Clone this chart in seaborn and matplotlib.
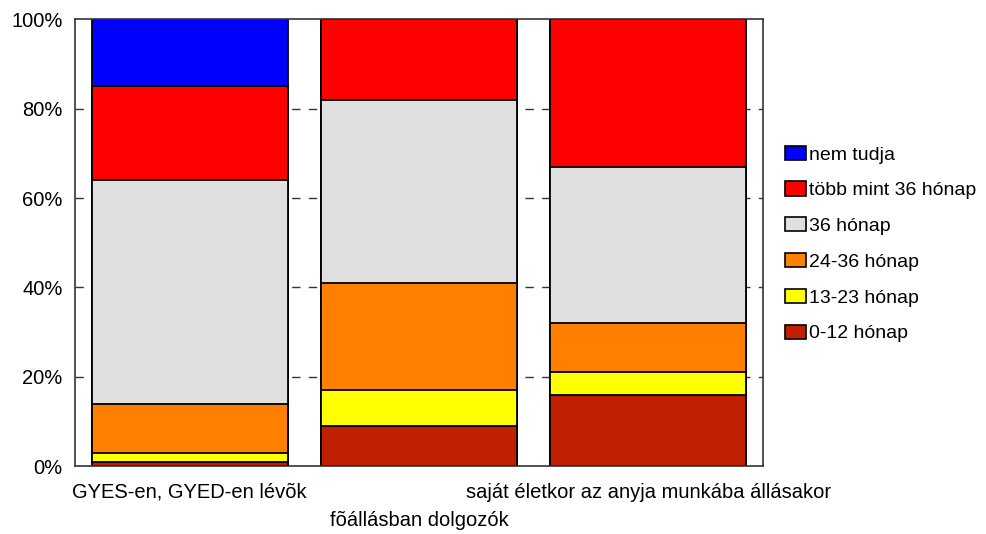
import numpy as np
import pandas as pd
import matplotlib
matplotlib.use("Agg")
import matplotlib.pyplot as plt
import seaborn as sns
from matplotlib.patches import Patch

groups = ["GYES-en, GYED-en lévõk", "fõállásban dolgozók", "saját életkor az anyja munkába állásakor"]
segments = ["0-12 hónap", "13-23 hónap", "24-36 hónap", "36 hónap", "több mint 36 hónap", "nem tudja"]
colors = ["#c02000", "#ffff00", "#ff8000", "#e0e0e0", "#ff0000", "#0000ff"]

m0_12 = [1, 9, 16]
m13_23 = [2, 8, 5]
m24_36 = [11, 24, 11]
m36 = [50, 41, 35]
over36 = [21, 18, 33]
unknown = [15, 0, 0]

sns.set_style("white")
plt.rcParams["font.family"] = ["Liberation Sans", "DejaVu Sans"]
plt.rcParams["text.color"] = "black"
plt.rcParams["xtick.color"] = "black"
plt.rcParams["ytick.color"] = "black"

df = pd.DataFrame({"group": groups, "0-12 hónap": m0_12, "13-23 hónap": m13_23,
                   "24-36 hónap": m24_36, "36 hónap": m36,
                   "több mint 36 hónap": over36, "nem tudja": unknown})
cum = df[segments].cumsum(axis=1)
cum["group"] = groups

fig = plt.figure(figsize=(9.87, 5.34), dpi=100)
ax = fig.add_axes([0.076, 0.127, 0.697, 0.837])

# draw tallest cumulative first so lower segments sit on top
for seg, col in reversed(list(zip(segments, colors))):
    sns.barplot(data=cum, x="group", y=seg, color=col, width=0.855,
                edgecolor="black", linewidth=1.3, saturation=1, ax=ax, zorder=2)

for y in [20, 40, 60, 80]:
    ax.axhline(y, color="#333333", lw=1, ls=(0, (6, 6)), zorder=0)

ax.set_ylim(0, 100)
ax.set_xlim(-0.5, 2.5)
ax.set_yticks([0, 20, 40, 60, 80, 100])
ax.set_yticklabels([f"{v}%" for v in range(0, 101, 20)], fontsize=14.5)
ax.set_xticks([0, 1, 2])
ax.set_xticklabels(groups, fontsize=14.5)
# stagger the middle label onto a second row
ax.get_xticklabels()[1].set_y(-0.063)
ax.tick_params(axis="y", length=0, pad=9)
ax.tick_params(axis="x", length=0, pad=12)
ax.set_xlabel("")
ax.set_ylabel("")
for s in ax.spines.values():
    s.set_visible(True)
    s.set_color("#333333")
    s.set_linewidth(1.2)

handles = [Patch(facecolor=c, edgecolor="black", lw=1.2, label=l)
           for l, c in zip(segments, colors)][::-1]
fig.legend(handles=handles, loc="center left", bbox_to_anchor=(0.795, 0.543),
           frameon=False, fontsize=14, handlelength=1.1, handleheight=0.75,
           handletextpad=0.15, labelspacing=0.92, borderaxespad=0, borderpad=0)

fig.savefig("out.png", dpi=100)
